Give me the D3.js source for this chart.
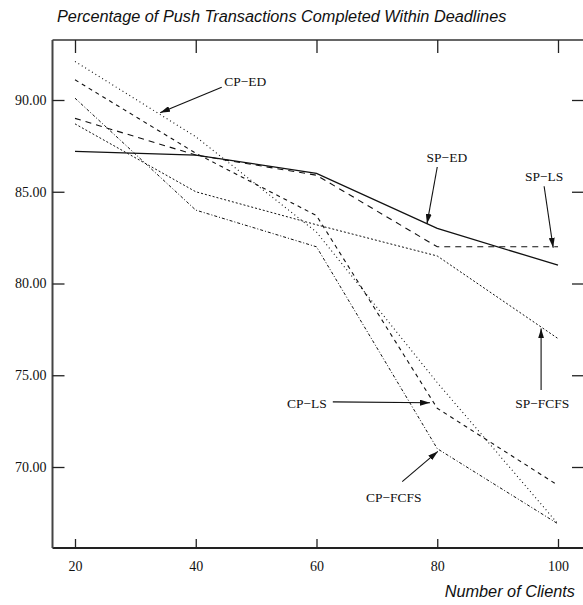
<!DOCTYPE html>
<html>
<head>
<meta charset="utf-8">
<script src="https://cdn.jsdelivr.net/npm/d3@7"></script>
<style>
  html, body { margin: 0; padding: 0; background: #fff; }
  svg { display: block; }
</style>
</head>
<body>
<div id="chart"></div>
<script>
// ---- data ----
const clients = [20, 40, 60, 80, 100];
const seriesNames = ["SP-ED", "SP-LS", "SP-FCFS", "CP-ED", "CP-LS", "CP-FCFS"];
const spED   = [87.2, 87.0, 86.0, 83.0, 81.0];
const spLS   = [89.0, 87.0, 85.9, 82.0, 82.0];
const spFCFS = [88.7, 85.0, 83.2, 81.5, 77.0];
const cpED   = [92.1, 88.0, 82.8, 74.6, 66.9];
const cpLS   = [91.1, 87.1, 83.7, 73.2, 69.0];
const cpFCFS = [90.1, 84.0, 82.0, 71.0, 66.9];
const xTicks = [20, 40, 60, 80, 100];
const yTicks = [70, 75, 80, 85, 90];
const titleText = "Percentage of Push Transactions Completed Within Deadlines";
const xAxisTitle = "Number of Clients";
// annotation labels and their anchor points, in data units (clients, percent)
const annLabels = ["CP\u2212ED", "SP\u2212ED", "SP\u2212LS", "SP\u2212FCFS", "CP\u2212LS", "CP\u2212FCFS"];
const annLabelPos = [[48.2, 91.0], [81.6, 86.85], [97.7, 85.85], [97.4, 73.45], [58.4, 73.45], [72.8, 68.35]];
const annFrom = [[44.3, 90.7], [80.0, 86.35], [97.7, 85.3], [97.2, 74.2], [62.7, 73.55], [74.2, 69.2]];
const annTip  = [[34.1, 89.3], [78.3, 83.25], [99.2, 81.95], [97.2, 77.55], [78.8, 73.5], [80.1, 70.85]];

(function () {
const W = 583, H = 605;
const svg = d3.select("#chart").append("svg").attr("width", W).attr("height", H);

const x = d3.scaleLinear().domain([20, 100]).range([75, 558]);
const y = d3.scaleLinear().domain([70, 90]).range([467, 100]);
const pLeft = 52.5, pRight = 586, pTop = 40, pBottom = 548;

const serifFont = "'Liberation Serif', 'Times New Roman', serif";
const sansFont = "'Liberation Sans', Arial, Helvetica, sans-serif";

// Title
svg.append("text").attr("x", 57).attr("y", 22)
  .attr("font-family", sansFont).attr("font-style", "italic").attr("font-size", 16.3)
  .attr("fill", "#111").text(titleText);

// Frame
svg.append("line").attr("x1", pLeft).attr("x2", pRight).attr("y1", pTop).attr("y2", pTop)
  .attr("stroke", "#333").attr("stroke-width", 1.5);
svg.append("line").attr("x1", pLeft).attr("x2", pRight).attr("y1", pBottom).attr("y2", pBottom)
  .attr("stroke", "#222").attr("stroke-width", 2);
svg.append("line").attr("x1", pLeft).attr("x2", pLeft).attr("y1", pTop).attr("y2", pBottom)
  .attr("stroke", "#444").attr("stroke-width", 2);

// Axes
const xAxisB = d3.axisBottom(x).tickValues(xTicks).tickSize(-9).tickPadding(13).tickFormat(d3.format("d"));
const gxb = svg.append("g").attr("transform", `translate(0,${pBottom})`).call(xAxisB);
gxb.select(".domain").remove();
gxb.selectAll("line").attr("stroke", "#222").attr("stroke-width", 1.3);
gxb.selectAll("text").attr("font-family", serifFont).attr("font-size", 14).attr("fill", "#111");

const xAxisT = d3.axisTop(x).tickValues(xTicks).tickSize(-13).tickFormat("");
const gxt = svg.append("g").attr("transform", `translate(0,${pTop})`).call(xAxisT);
gxt.select(".domain").remove();
gxt.selectAll("line").attr("stroke", "#222").attr("stroke-width", 1.3);

const yAxisL = d3.axisLeft(y).tickValues(yTicks).tickSize(-12).tickPadding(6).tickFormat(d3.format(".2f"));
const gyl = svg.append("g").attr("transform", `translate(${pLeft},0)`).call(yAxisL);
gyl.select(".domain").remove();
gyl.selectAll("line").attr("stroke", "#222").attr("stroke-width", 1.3);
gyl.selectAll("text").attr("font-family", serifFont).attr("font-size", 14).attr("fill", "#111");

const yAxisR = d3.axisRight(y).tickValues(yTicks).tickSize(-14).tickFormat("");
const gyr = svg.append("g").attr("transform", `translate(${pRight},0)`).call(yAxisR);
gyr.select(".domain").remove();
gyr.selectAll("line").attr("stroke", "#222").attr("stroke-width", 1.3);

// Series
const seriesValues = [spED, spLS, spFCFS, cpED, cpLS, cpFCFS];
const dashes = [null, "6,5", "2,2", "1,3", "4,4", "3,2,1,2"];
const widths = [1.3, 1.1, 1.0, 1.1, 1.1, 1.0];
const line = d3.line().x(d => x(d[0])).y(d => y(d[1]));
seriesNames.forEach((name, i) => {
  const pts = clients.map((c, j) => [c, seriesValues[i][j]]);
  svg.append("path").datum(pts).attr("d", line)
    .attr("fill", "none").attr("stroke", "#111")
    .attr("stroke-width", widths[i])
    .attr("stroke-dasharray", dashes[i])
    .attr("class", "series").attr("data-name", name);
});

// Annotations with arrows
const defs = svg.append("defs");
defs.append("marker").attr("id", "arrow").attr("viewBox", "0 0 10 6")
  .attr("refX", 10).attr("refY", 3).attr("markerWidth", 10).attr("markerHeight", 6)
  .attr("markerUnits", "userSpaceOnUse").attr("orient", "auto")
  .append("path").attr("d", "M0,0 L10,3 L0,6 Z").attr("fill", "#111");

annLabels.forEach((lab, i) => {
  svg.append("line")
    .attr("x1", x(annFrom[i][0])).attr("y1", y(annFrom[i][1]))
    .attr("x2", x(annTip[i][0])).attr("y2", y(annTip[i][1]))
    .attr("stroke", "#111").attr("stroke-width", 1.1)
    .attr("marker-end", "url(#arrow)");
  svg.append("text")
    .attr("x", x(annLabelPos[i][0])).attr("y", y(annLabelPos[i][1]))
    .attr("text-anchor", "middle").attr("dominant-baseline", "central")
    .attr("font-family", serifFont).attr("font-size", 13.5).attr("fill", "#111")
    .text(lab);
});

// X axis title
svg.append("text").attr("x", 575).attr("y", 597).attr("text-anchor", "end")
  .attr("font-family", sansFont).attr("font-style", "italic").attr("font-size", 16.3)
  .attr("fill", "#111").text(xAxisTitle);
})();
</script>
</body>
</html>
